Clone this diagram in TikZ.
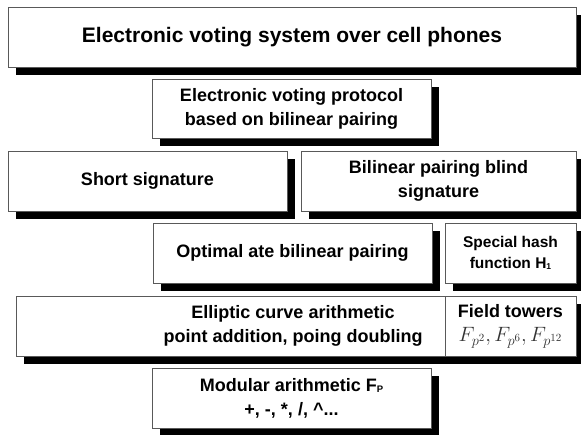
\documentclass[tikz,border=0pt]{standalone}
\usepackage{fontspec}
\setmainfont{Liberation Sans}
\usetikzlibrary{shadows}
\DeclareMathSizes{20}{20}{15}{11}
\newcommand{\lowsub}[2]{\raisebox{-1.5pt}{\fontsize{#1}{#1}\selectfont #2}}
\tikzset{
  box/.style={draw=black!65, line width=0.9pt, fill=white, inner sep=0pt,
    align=center, font=\fontsize{18}{24}\selectfont\bfseries,
    general shadow={fill=black, shadow xshift=8pt, shadow yshift=-8pt}},
  txt/.style={inner sep=0pt, align=center, font=\fontsize{18}{24}\selectfont\bfseries},
}
\begin{document}
\begin{tikzpicture}[x=1pt,y=-1pt]
\useasboundingbox (0,0) rectangle (581,434);
\clip (0,0) rectangle (581,434);
\fill[white] (0,0) rectangle (581,434);
\node[box, minimum width=568pt, minimum height=60pt, font=\fontsize{21}{24}\selectfont\bfseries] (title) at (292,37) {Electronic voting system over cell phones};
\node[box, minimum width=279pt, minimum height=59pt] (proto) at (291.5,108.5) {Electronic voting protocol\\based on bilinear pairing};
\node[box, minimum width=279pt, minimum height=60pt] (short) at (147.5,181) {Short signature};
\node[box, minimum width=275pt, minimum height=60pt] (blind) at (438.5,181) {Bilinear pairing blind\\signature};
\node[box, minimum width=279pt, minimum height=60pt] (optimal) at (292.5,253) {Optimal ate bilinear pairing};
\node[box, minimum width=131pt, minimum height=60pt, font=\fontsize{15.5}{21}\selectfont\bfseries] (hash) at (510.5,253) {Special hash\\function H\lowsub{8.5}{1}};
\node[box, minimum width=429pt, minimum height=60pt] (ellbox) at (230.5,326) {};
\node[txt] (elltext) at (293,326) {Elliptic curve arithmetic\\point addition, poing doubling};
\node[box, minimum width=131pt, minimum height=60pt] (field) at (510.5,326) {Field towers\\{\color{black!80}\fontsize{20}{24}\selectfont$F_{p^2}, F_{p^6}, F_{p^{12}}$}};
\node[box, minimum width=279pt, minimum height=60pt] (mod) at (291.5,398) {Modular arithmetic F\lowsub{9.5}{P}\\+, -, *, /, \textasciicircum...};
\end{tikzpicture}
\end{document}
